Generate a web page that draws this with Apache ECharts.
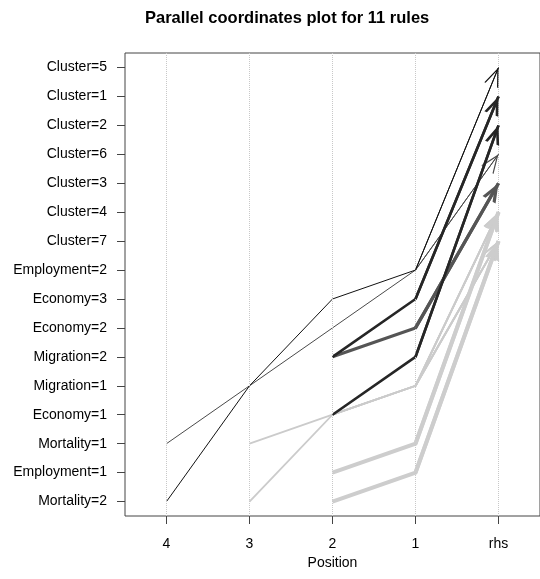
<!DOCTYPE html>
<html><head><meta charset="utf-8">
<script src="https://cdn.jsdelivr.net/npm/echarts@6/dist/echarts.min.js"></script>
<style>html,body{margin:0;padding:0;background:#fff}#c{width:540px;height:579px}</style>
</head><body><div id="c"></div>
<script>
// x positions (LHS item positions, then rhs)
const positions = ['4', '3', '2', '1', 'rhs'];
// y-axis items, bottom to top
const items = ['Mortality=2', 'Employment=1', 'Mortality=1', 'Economy=1', 'Migration=1',
  'Migration=2', 'Economy=2', 'Economy=3', 'Employment=2', 'Cluster=7', 'Cluster=4',
  'Cluster=3', 'Cluster=6', 'Cluster=2', 'Cluster=1', 'Cluster=5'];
// rules: item at positions 4,3,2,1,rhs (null = not used)
const rule1  = [null, 'Mortality=2', 'Economy=1', 'Migration=1', 'Cluster=7'];
const rule2  = [null, 'Mortality=1', 'Economy=1', 'Migration=1', 'Cluster=4'];
const rule3  = [null, null, 'Economy=1', 'Migration=1', 'Cluster=7'];
const rule4  = [null, null, 'Economy=1', 'Migration=1', 'Cluster=4'];
const rule5  = [null, null, 'Employment=1', 'Mortality=1', 'Cluster=4'];
const rule6  = [null, null, 'Mortality=2', 'Employment=1', 'Cluster=7'];
const rule7  = [null, null, 'Migration=2', 'Economy=2', 'Cluster=3'];
const rule8  = ['Mortality=1', 'Migration=1', 'Economy=2', 'Employment=2', 'Cluster=6'];
const rule9  = [null, null, 'Economy=1', 'Migration=2', 'Cluster=2'];
const rule10 = [null, null, 'Migration=2', 'Economy=3', 'Cluster=1'];
const rule11 = ['Mortality=2', 'Migration=1', 'Economy=3', 'Employment=2', 'Cluster=5'];
const rules = [rule1, rule2, rule3, rule4, rule5, rule6, rule7, rule8, rule9, rule10, rule11];

// styles (colour = lift shade, width = support)
const ruleStyles = [
  {c: '#cbcbcb', w: 1.8}, {c: '#cbcbcb', w: 1.8}, {c: '#cbcbcb', w: 1.8}, {c: '#cbcbcb', w: 1.8},
  {c: '#cdcdcd', w: 4}, {c: '#cdcdcd', w: 4},
  {c: '#555555', w: 3.2}, {c: '#4a4a4a', w: 1}, {c: '#262626', w: 2.6}, {c: '#262626', w: 2.6},
  {c: '#111111', w: 1}
];

const FONT = 'Liberation Sans, Arial, Helvetica, sans-serif';
const AW = 15, AH = 19;
function chevron(t) {
  const hx = 1.075 * t * 10 / AW;
  const ty = 1.075 * t * 10 / 7.5;
  return 'path://M5,0 L10,10 L' + (10 - hx).toFixed(2) + ',10 L5,' + ty.toFixed(2) +
    ' L' + hx.toFixed(2) + ',10 L0,10 Z';
}

const series = [];
series.push({
  type: 'line', data: [], silent: true, z: 1,
  markLine: {
    silent: true, symbol: ['none', 'none'], label: {show: false},
    lineStyle: {type: 'dotted', color: '#c8c8c8', width: 1},
    data: positions.map(p => ({xAxis: p}))
  }
});
rules.forEach((r, k) => {
  const st = ruleStyles[k];
  const pts = [];
  r.forEach((it, i) => { if (it !== null) pts.push([positions[i], it]); });
  const n = pts.length;
  series.push({
    type: 'line', data: pts, symbol: 'none', silent: true, z: 2,
    lineStyle: {color: st.c, width: st.w, join: 'miter'},
    markLine: {
      silent: true, symbol: ['none', 'none'], label: {show: false},
      lineStyle: {type: 'solid', color: st.c, width: st.w},
      data: [[
        {coord: pts[n - 2]},
        {coord: pts[n - 1], symbol: chevron(Math.max(st.w, 1.2)), symbolSize: [AW, AH], symbolOffset: [0, '50%']}
      ]]
    }
  });
});

const chart = echarts.init(document.getElementById('c'), null, {renderer: 'canvas'});
chart.setOption({
  animation: false,
  backgroundColor: '#fff',
  title: {
    text: 'Parallel coordinates plot for 11 rules', left: 140, top: 5,
    textStyle: {fontFamily: FONT, fontSize: 16.5, fontWeight: 'bold', color: '#000'}
  },
  grid: {left: 125, top: 53, width: 417, height: 463, show: true, borderColor: '#444', borderWidth: 1, backgroundColor: 'transparent'},
  xAxis: {
    type: 'category', data: positions, boundaryGap: true,
    axisLine: {show: false},
    axisTick: {show: true, alignWithLabel: true, length: 8, lineStyle: {color: '#444'}},
    axisLabel: {fontFamily: FONT, fontSize: 14, color: '#000', margin: 21},
    splitLine: {show: false},
    name: 'Position', nameLocation: 'middle', nameGap: 39,
    nameTextStyle: {fontFamily: FONT, fontSize: 14, color: '#000'}
  },
  yAxis: {
    type: 'category', data: items, boundaryGap: true,
    axisLine: {show: false},
    axisTick: {show: true, alignWithLabel: true, length: 8, lineStyle: {color: '#444'}},
    axisLabel: {fontFamily: FONT, fontSize: 14, color: '#000', margin: 18},
    splitLine: {show: false}
  },
  series: series
});
</script></body></html>
